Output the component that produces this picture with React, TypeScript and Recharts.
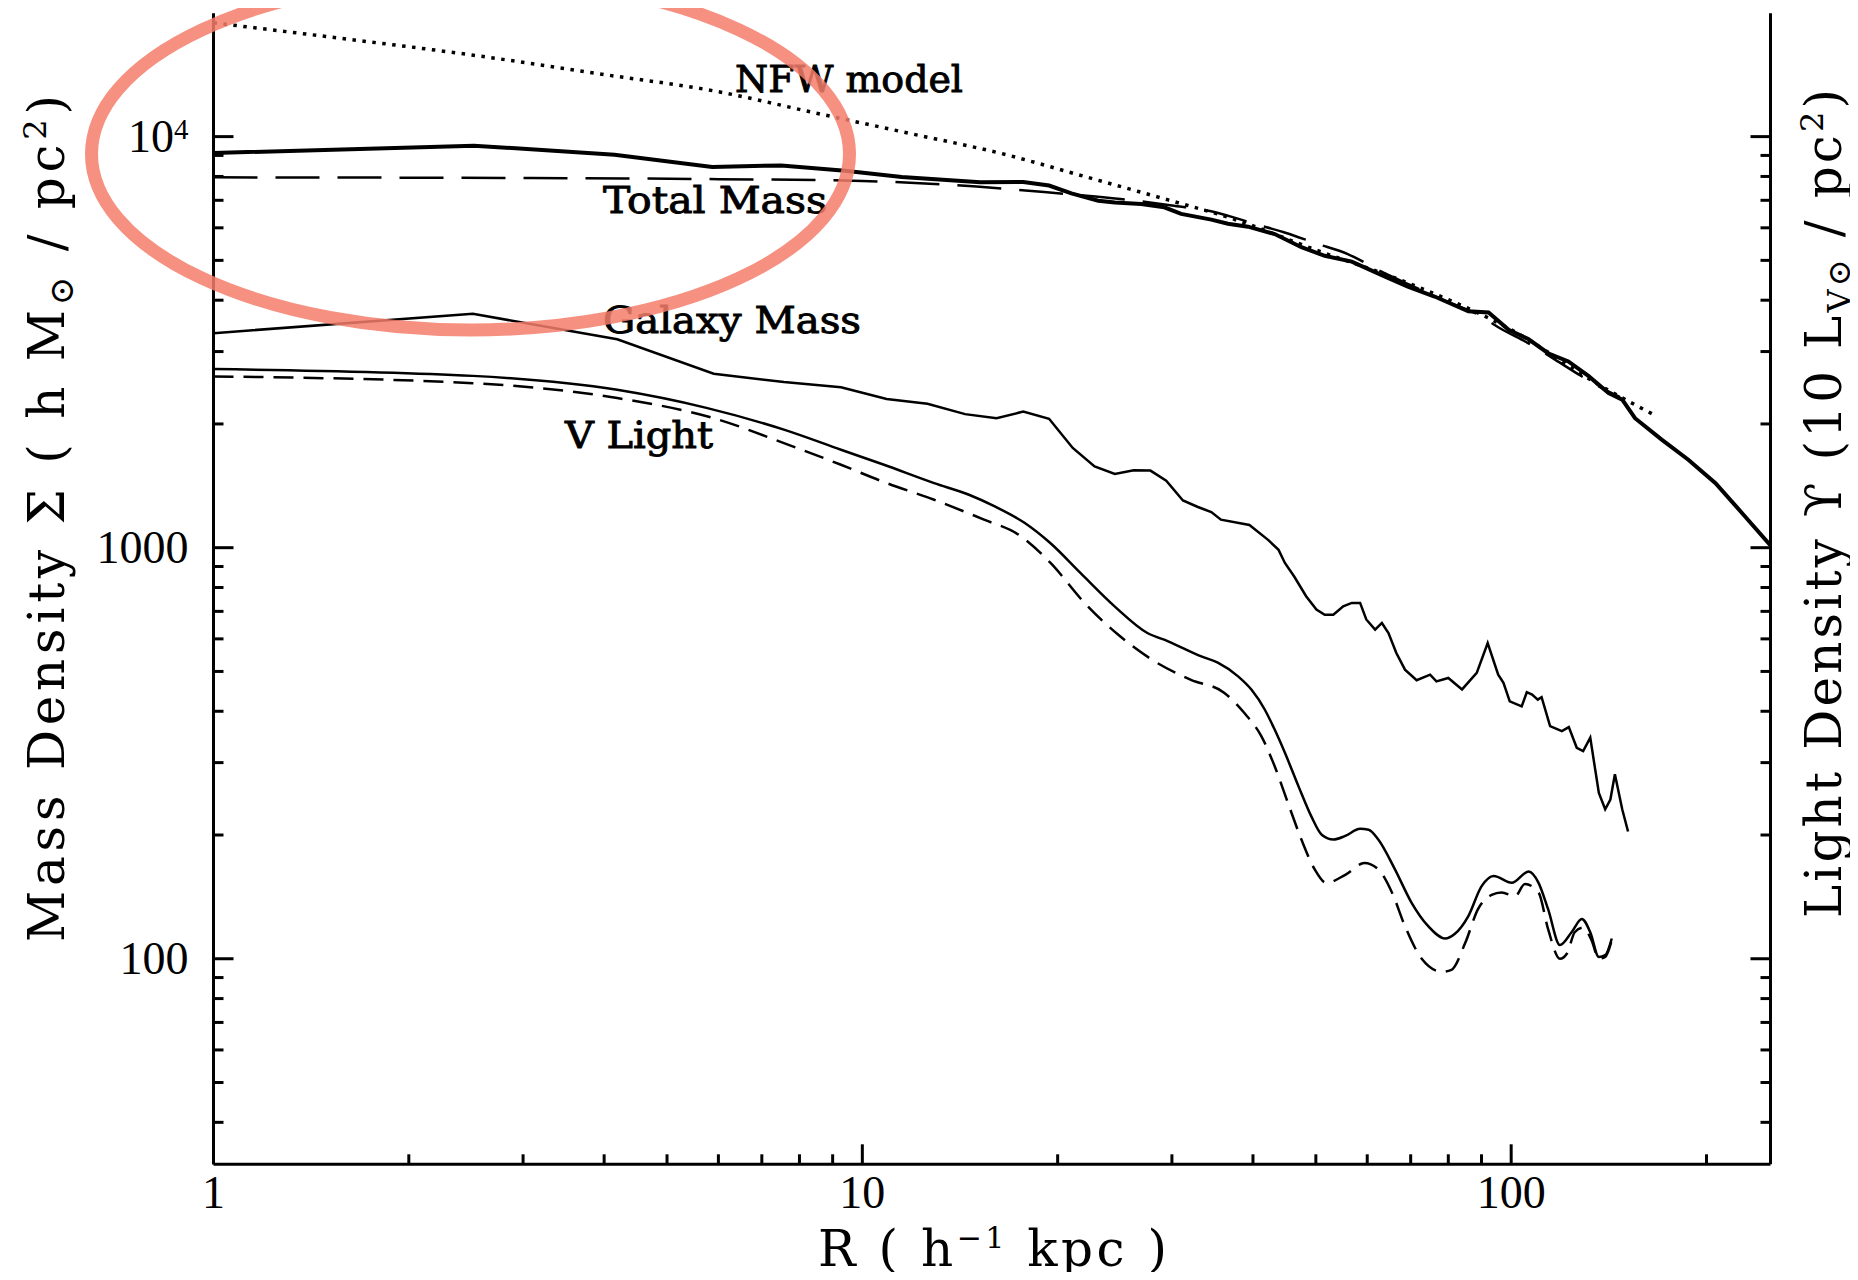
import React from "react";
import { LineChart, Line, XAxis, YAxis } from "recharts";

// radius R (h^-1 kpc) and surface density (h Msun / pc^2)
const totalR = [1.0, 2.52, 4.15, 5.87, 7.5, 9.4, 11.5, 15.2, 17.7, 19.4, 21.0, 23.1, 24.5, 26.9, 29.2, 31.0, 34.5, 36.6, 39.3, 43.2, 47.5, 51.6, 56.8, 63.8, 69.3, 76.2, 85.9, 92.3, 99.1, 106.4, 114.0, 122.5, 131.5, 141.3, 148.3, 155.2, 170.6, 187.5, 206.5, 227.0, 250.6];
const totalSigma = [9120, 9506, 9036, 8433, 8511, 8260, 7980, 7740, 7760, 7603, 7278, 6982, 6918, 6855, 6730, 6486, 6281, 6138, 6039, 5794, 5383, 5129, 4966, 4571, 4315, 4083, 3758, 3733, 3388, 3214, 2972, 2838, 2618, 2377, 2291, 2065, 1832, 1637, 1435, 1213, 1016];

const totalModelR = [1, 3, 6, 10, 15, 20, 25, 30, 35, 40, 45, 50, 56, 63, 70, 80, 88, 97, 106, 117, 127, 137, 147];
const totalModelSigma = [7960, 7930, 7880, 7800, 7560, 7280, 7050, 6800, 6550, 6150, 5830, 5500, 5180, 4700, 4350, 3950, 3720, 3390, 3150, 2864, 2640, 2460, 2328];

const nfwR = [1, 1.5, 2.5, 4, 6, 8.5, 11.5, 16.7, 22, 29.6, 37, 50, 70, 100, 138, 166];
const nfwSigma = [18920, 17500, 15800, 14160, 12860, 11400, 10280, 9028, 8000, 7015, 6332, 5300, 4380, 3390, 2466, 2105];

const galaxyR = [1.0, 2.51, 4.19, 5.9, 7.57, 9.27, 10.9, 12.6, 14.4, 16.1, 17.7, 19.4, 21.1, 22.8, 24.5, 26.2, 27.8, 29.4, 31.2, 32.9, 34.5, 35.7, 39.5, 42.2, 43.8, 44.8, 46.3, 48.3, 50.1, 51.6, 53.2, 55.1, 56.8, 58.5, 59.8, 61.7, 63.2, 64.7, 66.5, 68.6, 71.5, 75.0, 76.7, 80.0, 84.0, 88.5, 92.0, 95.5, 97.3, 99.5, 103.8, 105.7, 107.7, 109.9, 111.4, 114.8, 119.7, 122.7, 126.2, 129.1, 132.4, 136.5, 139.6, 142.2, 144.5, 148.3, 151.4];
const galaxySigma = [3326, 3706, 3213, 2649, 2530, 2456, 2299, 2239, 2113, 2065, 2143, 2059, 1748, 1577, 1511, 1542, 1540, 1455, 1303, 1256, 1221, 1170, 1136, 1045, 988, 918, 851, 762, 707, 687, 687, 720, 734, 734, 669, 632, 656, 620, 555, 505, 476, 491, 473, 482, 452, 496, 586, 491, 469, 423, 411, 445, 439, 427, 433, 368, 358, 366, 326, 320, 345, 253, 231, 244, 281, 231, 204];

const lightR = [1.0, 2.51, 4.19, 5.75, 7.57, 9.27, 10.8, 12.9, 14.6, 16.0, 17.8, 19.5, 21.7, 24.5, 27.5, 29.6, 33.3, 35.3, 37.9, 39.8, 41.7, 43.2, 44.8, 47.0, 49.2, 51.1, 53.2, 55.5, 58.5, 60.3, 62.4, 66.2, 70.2, 74.5, 79.1, 81.9, 85.9, 90.0, 94.0, 100.2, 106.4, 110.2, 114.0, 118.9, 123.9, 128.5, 132.4, 136.5, 139.6, 142.9];
const lightSigma = [2720, 2618, 2421, 2188, 1937, 1731, 1591, 1436, 1345, 1260, 1148, 1025, 867, 719, 620, 592, 544, 525, 487, 451, 404, 361, 317, 263, 222, 200, 195, 199, 207, 206, 195, 165, 137, 120, 112, 115, 127, 150, 159, 153, 163, 153, 132, 108, 116, 125, 116, 101, 102, 112];

const lightModelR = [1.0, 2.51, 4.19, 5.9, 7.57, 9.27, 10.9, 12.9, 15.4, 17.4, 19.5, 22.0, 24.8, 27.9, 32.1, 36.1, 38.8, 41.2, 43.2, 45.3, 47.5, 49.8, 51.9, 55.5, 59.4, 62.4, 65.5, 68.6, 72.8, 78.2, 80.9, 84.9, 88.9, 93.3, 96.6, 101.4, 105.0, 110.2, 114.0, 118.9, 121.9, 125.3, 129.1, 133.0, 136.5, 139.6, 142.9];
const lightModelSigma = [2610, 2512, 2312, 2066, 1797, 1591, 1436, 1308, 1170, 1076, 918, 734, 614, 535, 477, 444, 396, 348, 294, 239, 195, 165, 153, 160, 171, 165, 145, 120, 100, 93, 94, 109, 132, 143, 145, 142, 152, 145, 118, 100, 103, 116, 119, 111, 100, 101, 111];

// axis ticks
const xMajor = [1, 10, 100];
const xMinor = [2, 3, 4, 5, 6, 7, 8, 9, 20, 30, 40, 50, 60, 70, 80, 90, 200];
const yMajor = [100, 1000, 10000];
const yMinor = [40, 50, 60, 70, 80, 90, 200, 300, 400, 500, 600, 700, 800, 900, 2000, 3000, 4000, 5000, 6000, 7000, 8000, 9000];

const xDomain = [1, 251];
const yDomain = [31.62, 19953];

const xTicks = [...xMajor, ...xMinor].sort((a, b) => a - b);
const yTicks = [...yMajor, ...yMinor].sort((a, b) => a - b);

const toSeries = (rs: number[], vs: number[]) => rs.map((r, i) => ({ r, v: vs[i] }));

const TICK_FONT = "'Liberation Serif', 'Times New Roman', serif";
const LABEL_FONT = "'DejaVu Serif', serif";

const BottomTick = ({ x, y, payload }: any) => {
  const major = xMajor.includes(payload.value);
  return (
    <g>
      <line x1={x} x2={x} y1={y} y2={y - (major ? 20 : 10)} stroke="#000" strokeWidth={3} />
      {major && (
        <text x={x} y={y + 44} textAnchor="middle" fontFamily={TICK_FONT} fontSize={46} fill="#000">
          {payload.value}
        </text>
      )}
    </g>
  );
};

const TopTick = ({ x, y, payload }: any) => {
  const major = xMajor.includes(payload.value);
  return <line x1={x} x2={x} y1={y} y2={y + (major ? 20 : 10)} stroke="#000" strokeWidth={3} />;
};

const LeftTick = ({ x, y, payload }: any) => {
  const v = payload.value;
  const major = yMajor.includes(v);
  return (
    <g>
      <line x1={x} x2={x + (major ? 20 : 10)} y1={y} y2={y} stroke="#000" strokeWidth={3} />
      {major && (
        <text x={x - 25} y={y + 15} textAnchor="end" fontFamily={TICK_FONT} fontSize={46} fill="#000">
          {v === 10000 ? (
            <>
              10<tspan dy={-13} fontSize={29}>4</tspan>
            </>
          ) : (
            v
          )}
        </text>
      )}
    </g>
  );
};

const RightTick = ({ x, y, payload }: any) => {
  const major = yMajor.includes(payload.value);
  return <line x1={x} x2={x - (major ? 20 : 10)} y1={y} y2={y} stroke="#000" strokeWidth={3} />;
};

const axisLine = { stroke: "#000", strokeWidth: 3 };

export default function App() {
  return (
    <div style={{ position: "relative", width: 1842, height: 1264 }}>
      <LineChart width={1842} height={1264} margin={{ top: 5.3, right: 0, bottom: 0, left: 0 }}>
        <XAxis
          xAxisId="bottom"
          dataKey="r"
          type="number"
          scale="log"
          domain={xDomain}
          allowDataOverflow
          ticks={xTicks}
          interval={0}
          tickSize={0}
          tickMargin={0}
          tickLine={false}
          axisLine={axisLine}
          tick={BottomTick}
          height={107.7}
        />
        <XAxis
          xAxisId="top"
          orientation="top"
          type="number"
          scale="log"
          domain={xDomain}
          allowDataOverflow
          ticks={xTicks}
          interval={0}
          tickSize={0}
          tickMargin={0}
          tickLine={false}
          axisLine={axisLine}
          tick={TopTick}
          height={0}
        />
        <YAxis
          yAxisId="left"
          type="number"
          scale="log"
          domain={yDomain}
          allowDataOverflow
          ticks={yTicks}
          interval={0}
          tickSize={0}
          tickMargin={0}
          tickLine={false}
          axisLine={axisLine}
          tick={LeftTick}
          width={205.5}
        />
        <YAxis
          yAxisId="right"
          orientation="right"
          type="number"
          scale="log"
          domain={yDomain}
          allowDataOverflow
          ticks={yTicks}
          interval={0}
          tickSize={0}
          tickMargin={0}
          tickLine={false}
          axisLine={axisLine}
          tick={RightTick}
          width={79.5}
        />

        {/* NFW model - dotted */}
        <Line
          xAxisId="bottom"
          yAxisId="left"
          data={toSeries(nfwR, nfwSigma)}
          dataKey="v"
          type="monotone"
          stroke="#000"
          strokeWidth={3.5}
          strokeDasharray="3.5 6.5"
          dot={false}
          activeDot={false}
          isAnimationActive={false}
        />
        {/* total mass fit - long dashes */}
        <Line
          xAxisId="bottom"
          yAxisId="left"
          data={toSeries(totalModelR, totalModelSigma)}
          dataKey="v"
          type="monotone"
          stroke="#000"
          strokeWidth={2.5}
          strokeDasharray="44 18"
          dot={false}
          activeDot={false}
          isAnimationActive={false}
        />
        {/* total mass - thick */}
        <Line
          xAxisId="bottom"
          yAxisId="left"
          data={toSeries(totalR, totalSigma)}
          dataKey="v"
          type="linear"
          stroke="#000"
          strokeWidth={4}
          dot={false}
          activeDot={false}
          isAnimationActive={false}
        />
        {/* galaxy mass */}
        <Line
          xAxisId="bottom"
          yAxisId="left"
          data={toSeries(galaxyR, galaxySigma)}
          dataKey="v"
          type="linear"
          stroke="#000"
          strokeWidth={2.5}
          dot={false}
          activeDot={false}
          isAnimationActive={false}
        />
        {/* V light */}
        <Line
          xAxisId="bottom"
          yAxisId="left"
          data={toSeries(lightR, lightSigma)}
          dataKey="v"
          type="monotone"
          stroke="#000"
          strokeWidth={2.5}
          dot={false}
          activeDot={false}
          isAnimationActive={false}
        />
        {/* V light fit - short dashes */}
        <Line
          xAxisId="bottom"
          yAxisId="left"
          data={toSeries(lightModelR, lightModelSigma)}
          dataKey="v"
          type="monotone"
          stroke="#000"
          strokeWidth={2.5}
          strokeDasharray="20 10"
          dot={false}
          activeDot={false}
          isAnimationActive={false}
        />
      </LineChart>

      {/* titles, annotations and the hand-drawn ring */}
      <svg
        width={1842}
        height={1272}
        style={{ position: "absolute", left: 0, top: 0, overflow: "visible", pointerEvents: "none" }}
      >
        <g fontFamily={LABEL_FONT} fill="#000">
          <text
            transform="translate(56, 934) rotate(-90)"
            fontSize={50}
            textLength={847}
            lengthAdjust="spacing"
            style={{ whiteSpace: "pre" }}
          >
            Mass Density Σ ( h M<tspan dy={9} fontSize={34}>⊙</tspan>
            <tspan dy={-9}> / pc</tspan>
            <tspan dy={-18} fontSize={32}>2</tspan>
            <tspan dy={18}>)</tspan>
          </text>
          <text
            transform="translate(1833, 910) rotate(-90)"
            fontSize={50}
            textLength={829}
            lengthAdjust="spacing"
            style={{ whiteSpace: "pre" }}
          >
            Light Density ϒ (10 L<tspan dy={9} fontSize={32}>V⊙</tspan>
            <tspan dy={-9}> / pc</tspan>
            <tspan dy={-18} fontSize={32}>2</tspan>
            <tspan dy={18}>)</tspan>
          </text>
          <text x={810} y={1258} fontSize={50} textLength={349} lengthAdjust="spacing" style={{ whiteSpace: "pre" }}>
            R ( h<tspan dy={-18} fontSize={30}>−1</tspan>
            <tspan dy={18}> kpc )</tspan>
          </text>

          <g fontSize={37} stroke="#000" strokeWidth={0.9}>
            <text x={727} y={84} textLength={228} lengthAdjust="spacingAndGlyphs">NFW model</text>
            <text x={595} y={205} textLength={224} lengthAdjust="spacingAndGlyphs">Total Mass</text>
            <text x={595} y={325} textLength={258} lengthAdjust="spacingAndGlyphs">Galaxy Mass</text>
            <text x={557} y={440} textLength={148} lengthAdjust="spacingAndGlyphs">V Light</text>
          </g>
        </g>
        <ellipse cx={462.5} cy={146} rx={379} ry={176} fill="none" stroke="#F47C6A" strokeWidth={13} opacity={0.85} />
      </svg>
    </div>
  );
}
